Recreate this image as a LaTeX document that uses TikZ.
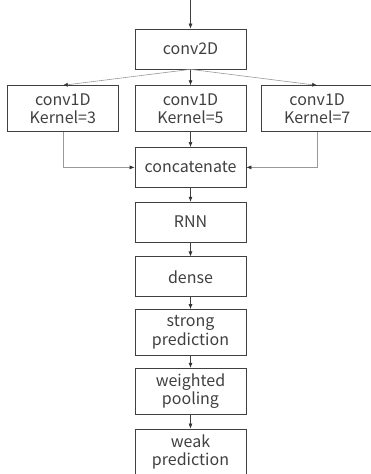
\documentclass[tikz,border=0pt]{standalone}
\usepackage{fontspec}
\setmainfont{Noto Sans CJK SC}
\usetikzlibrary{positioning,arrows.meta}

\begin{document}
\begin{tikzpicture}[x=1pt, y=1pt, node distance=14pt and 15pt,
  box/.style = {draw=black!75, line width=0.7pt, minimum width=111pt, minimum height=40pt,
                align=center, inner sep=2pt, text=black!75, font=\fontsize{16}{18.5}\selectfont},
  tall/.style = {box, minimum height=46pt},
  link/.style = {-{Latex[length=5pt,width=4pt,color=black!80]}, draw=black!75, line width=0.6pt},
  side/.style = {link, draw=black!40}]
\useasboundingbox (0,0) rectangle (370,-474);

\coordinate (in) at (190.5,0);
\node[box] (conv) at (190.5,-49) {conv2D};

% three parallel conv1D branches
\node[tall] (k5) [below=16pt of conv] {conv1D\\Kernel=5};
\node[tall] (k3) [left=16pt of k5] {conv1D\\Kernel=3};
\node[tall] (k7) [right=15pt of k5] {conv1D\\Kernel=7};

\node[box] (cat) [below=15pt of k5] {concatenate};
\node[box] (rnn) [below=of cat] {RNN};
\node[box] (dense) [below=of rnn] {dense};
\node[tall] (strong) [below=12pt of dense] {strong\\prediction};
\node[tall] (pool) [below=12pt of strong] {weighted\\pooling};
\node[tall] (weak) [below=of pool] {weak\\prediction};

\draw[link] (in) -- (conv);
\draw[side] (conv.south) -- (k3.north);
\draw[link] (conv) -- (k5);
\draw[side] (conv.south) -- (k7.north);

\draw[side] (k3.south) |- (cat.west);
\draw[link] (k5) -- (cat);
\draw[side] (k7.south) |- (cat.east);

\draw[link] (cat) -- (rnn);
\draw[link] (rnn) -- (dense);
\draw[link] (dense) -- (strong);
\draw[link] (strong) -- (pool);
\draw[link] (pool) -- (weak);
\end{tikzpicture}
\end{document}
